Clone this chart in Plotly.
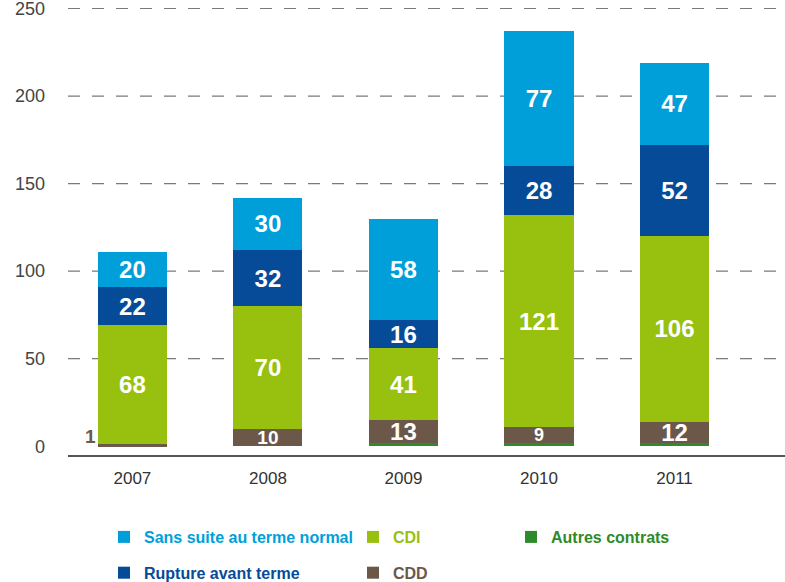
import plotly.graph_objects as go

years = ["2007", "2008", "2009", "2010", "2011"]
autres = [0, 0, 2, 2, 2]
cdd = [1, 10, 13, 9, 12]
cdi = [68, 70, 41, 121, 106]
rupture = [22, 32, 16, 28, 52]
sans_suite = [20, 30, 58, 77, 47]
y_ticks = [0, 50, 100, 150, 200, 250]

C_SANS = "#009fda"
C_RUPT = "#064b98"
C_CDI = "#98c00f"
C_CDD = "#6b5849"
C_AUT = "#2e8a2b"

FONT = "Liberation Sans, Arial, sans-serif"

def lab(vals, skip=()):
    return [("" if (i in skip or v == 0) else str(v)) for i, v in enumerate(vals)]

fig = go.Figure()
series = [
    ("Autres contrats", autres, C_AUT, [""] * 5, "legend3", 24),
    ("CDD", cdd, C_CDD, lab(cdd, skip=(0,)), "legend2", [19, 19, 24, 18, 24]),
    ("CDI", cdi, C_CDI, lab(cdi), "legend2", 24),
    ("Rupture avant terme", rupture, C_RUPT, lab(rupture), "legend", 24),
    ("Sans suite au terme normal", sans_suite, C_SANS, lab(sans_suite), "legend", 24),
]
rank = {"Sans suite au terme normal": 1, "Rupture avant terme": 2, "CDI": 1, "CDD": 2, "Autres contrats": 1}
for name, vals, col, txt, lg, fs in series:
    fig.add_trace(go.Bar(
        x=years, y=vals, name=f"<b><span style='color:{col}'>{name}</span></b>",
        marker=dict(color=col, line=dict(width=0)),
        text=txt, textposition="inside", insidetextanchor="middle", textangle=0,
        constraintext="none",
        textfont=dict(family=FONT, size=fs, color="white", weight="bold"),
        width=0.51, legend=lg, legendgroup=name, legendrank=rank[name],
        hoverinfo="skip",
    ))

# small CDD value in 2007 shown outside, to the left of the bar
fig.add_annotation(x=0, y=autres[0] + cdd[0], text=f"<b>{cdd[0]}</b>",
                   xref="x", yref="y", showarrow=False, xanchor="right", yanchor="bottom",
                   xshift=-34, yshift=-5,
                   font=dict(family=FONT, size=19, color=C_CDD))

# dashed gridlines (excluding the baseline)
for v in y_ticks[1:]:
    fig.add_shape(type="line", xref="paper", x0=0, x1=1, yref="y", y0=v, y1=v,
                  line=dict(color="#7a7a7a", width=1.2, dash="12px,12px"), layer="below")

leg_common = dict(yref="container", y=1 - 520 / 582, xanchor="left", yanchor="top",
                  orientation="v", tracegroupgap=12, font=dict(size=16, family=FONT),
                  bgcolor="rgba(0,0,0,0)")

fig.update_layout(
    barmode="stack",
    width=785, height=582,
    margin=dict(l=68, r=0, t=5, b=127, autoexpand=False),
    plot_bgcolor="white", paper_bgcolor="white",
    font=dict(family=FONT, size=16, color="#444"),
    xaxis=dict(range=[-0.475, 4.815], showgrid=False, showline=True, linecolor="#555",
               linewidth=1.5, ticks="", ticklabelstandoff=7, automargin=False,
               tickfont=dict(size=17, color="#333")),
    yaxis=dict(range=[-5, 252], tickvals=y_ticks, showgrid=False, zeroline=False,
               showline=False, ticks="", ticklabelstandoff=22, automargin=False,
               ticklabeloverflow="allow",
               tickfont=dict(size=18, color="#444")),
    legend=dict(x=(104 - 68) / 717, **leg_common),
    legend2=dict(x=(353 - 68) / 717, **leg_common),
    legend3=dict(x=(511 - 68) / 717, **leg_common),
)

fig.write_html("out.html", config={"displayModeBar": False},
               post_script="document.body.style.margin='0';document.body.style.overflow='hidden';")
